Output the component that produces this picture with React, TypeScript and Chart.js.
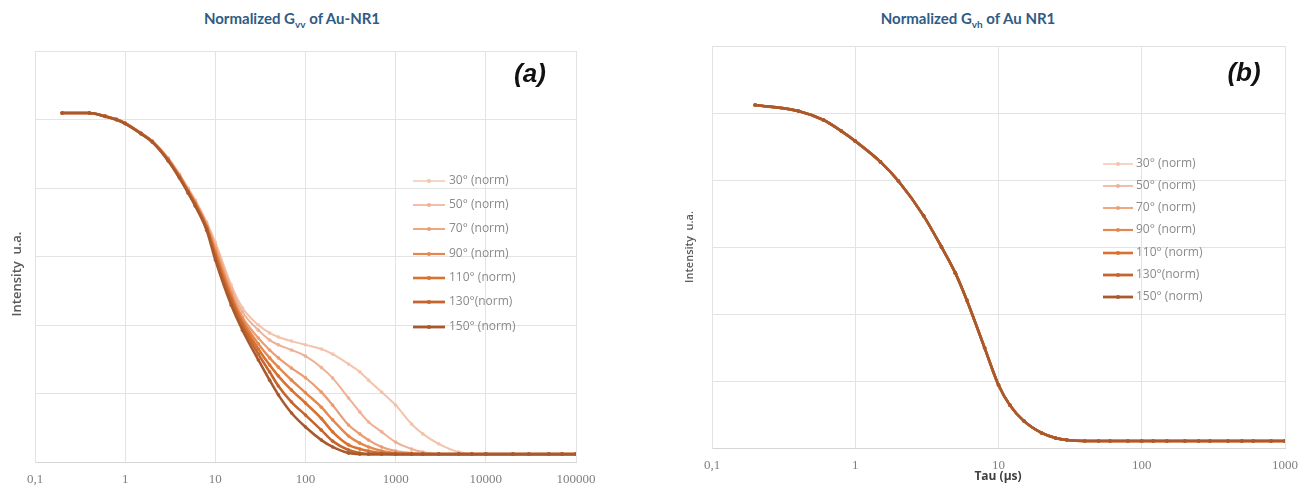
import React, { useEffect, useRef } from "react";
import { Chart, registerables } from "chart.js";

Chart.register(...registerables);

// ---------- data ----------
const ANGLE_LABELS = ["30° (norm)", "50° (norm)", "70° (norm)", "90° (norm)", "110° (norm)", "130°(norm)", "150° (norm)"];

const TAU_A = [0.2, 0.4, 0.6, 0.8, 1, 1.5, 2, 3, 4, 5, 6, 8, 10, 15, 20, 30, 40, 50, 70, 100, 150, 200, 300, 400, 500, 700, 1000, 1500, 2000, 3000, 5000, 7000, 10000, 20000, 30000, 50000, 70000, 100000];

const GVV_30 = [1.019, 1.019, 1.010, 1.001, 0.990, 0.961, 0.937, 0.888, 0.841, 0.800, 0.765, 0.701, 0.642, 0.517, 0.450, 0.400, 0.377, 0.365, 0.353, 0.342, 0.330, 0.315, 0.286, 0.263, 0.239, 0.204, 0.166, 0.111, 0.082, 0.053, 0.029, 0.023, 0.023, 0.023, 0.023, 0.023, 0.023, 0.023];
const GVV_50 = [1.019, 1.019, 1.010, 1.001, 0.990, 0.961, 0.937, 0.887, 0.839, 0.797, 0.762, 0.697, 0.634, 0.508, 0.438, 0.385, 0.356, 0.342, 0.327, 0.309, 0.276, 0.245, 0.187, 0.146, 0.117, 0.088, 0.058, 0.038, 0.029, 0.023, 0.023, 0.023, 0.023, 0.023, 0.023, 0.023, 0.023, 0.023];
const GVV_70 = [1.019, 1.019, 1.010, 1.001, 0.990, 0.960, 0.936, 0.885, 0.837, 0.794, 0.758, 0.692, 0.625, 0.496, 0.423, 0.362, 0.327, 0.304, 0.274, 0.246, 0.204, 0.166, 0.108, 0.082, 0.064, 0.044, 0.032, 0.026, 0.023, 0.023, 0.023, 0.023, 0.023, 0.023, 0.023, 0.023, 0.023, 0.023];
const GVV_90 = [1.019, 1.019, 1.010, 1.000, 0.989, 0.960, 0.936, 0.884, 0.835, 0.792, 0.756, 0.689, 0.616, 0.488, 0.415, 0.345, 0.304, 0.277, 0.239, 0.202, 0.160, 0.123, 0.076, 0.055, 0.044, 0.032, 0.026, 0.023, 0.023, 0.023, 0.023, 0.023, 0.023, 0.023, 0.023, 0.023, 0.023, 0.023];
const GVV_110 = [1.019, 1.019, 1.009, 1.000, 0.989, 0.959, 0.935, 0.882, 0.833, 0.790, 0.753, 0.686, 0.607, 0.479, 0.406, 0.330, 0.283, 0.251, 0.210, 0.172, 0.127, 0.088, 0.050, 0.038, 0.032, 0.026, 0.023, 0.023, 0.023, 0.023, 0.023, 0.023, 0.023, 0.023, 0.023, 0.023, 0.023, 0.023];
const GVV_130 = [1.019, 1.019, 1.009, 1.000, 0.988, 0.959, 0.935, 0.881, 0.831, 0.788, 0.750, 0.682, 0.599, 0.470, 0.397, 0.315, 0.263, 0.222, 0.175, 0.137, 0.093, 0.061, 0.035, 0.026, 0.023, 0.023, 0.023, 0.023, 0.023, 0.023, 0.023, 0.023, 0.023, 0.023, 0.023, 0.023, 0.023, 0.023];
const GVV_150 = [1.019, 1.019, 1.009, 0.999, 0.988, 0.958, 0.934, 0.879, 0.829, 0.785, 0.747, 0.677, 0.590, 0.458, 0.385, 0.298, 0.239, 0.196, 0.143, 0.102, 0.064, 0.044, 0.026, 0.023, 0.023, 0.023, 0.023, 0.023, 0.023, 0.023, 0.023, 0.023, 0.023, 0.023, 0.023, 0.023, 0.023, 0.023];

const TAU_B = [0.2, 0.4, 0.6, 0.8, 1, 1.5, 2, 3, 4, 5, 6, 8, 10, 12, 15, 20, 25, 30, 40, 50, 60, 80, 100, 120, 150, 200, 250, 300, 400, 500, 600, 800, 1000];
// all seven angles coincide in the Gvh panel
const GVH_NORM = [1.024, 1.006, 0.979, 0.946, 0.916, 0.854, 0.797, 0.693, 0.600, 0.522, 0.442, 0.299, 0.188, 0.128, 0.081, 0.045, 0.030, 0.024, 0.021, 0.021, 0.021, 0.021, 0.021, 0.021, 0.021, 0.021, 0.021, 0.021, 0.021, 0.021, 0.021, 0.021, 0.021];

const TICKS_A = [0.1, 1, 10, 100, 1000, 10000, 100000];
const TICK_LABELS_A = ["0,1", "1", "10", "100", "1000", "10000", "100000"];
const TICKS_B = [0.1, 1, 10, 100, 1000];
const TICK_LABELS_B = ["0,1", "1", "10", "100", "1000"];

// ---------- styles ----------
const SERIES_COLORS = ["#f4c3ab", "#efb095", "#eb9d73", "#e5884e", "#d9712f", "#c4652e", "#a9592e"];
const LINE_WIDTHS = [2, 2, 2.2, 2.4, 2.6, 2.6, 2.6];
const LEGEND_WIDTHS = [1.4, 1.6, 1.8, 2.2, 2.6, 2.8, 2.8];

type Overlay = {
  yTitle: { x: number; y: number; font: string };
  tag: { text: string; x: number; y: number };
  legend: { x0: number; x1: number; tx: number; ys: number[]; font: string };
  xTitle?: { text: string; x: number; y: number };
};

function overlayPlugin(o: Overlay) {
  return {
    id: "overlay",
    afterDraw(chart: any) {
      const ctx = chart.ctx as CanvasRenderingContext2D;
      ctx.save();
      ctx.save();
      ctx.translate(o.yTitle.x, o.yTitle.y);
      ctx.rotate(-Math.PI / 2);
      ctx.font = o.yTitle.font;
      ctx.fillStyle = "#595959";
      ctx.textAlign = "center";
      ctx.textBaseline = "middle";
      ctx.fillText("Intensity  u.a.", 0, 0);
      ctx.restore();
      ctx.font = "italic bold 26px 'Liberation Sans', sans-serif";
      ctx.fillStyle = "#111111";
      ctx.textAlign = "center";
      ctx.textBaseline = "middle";
      ctx.fillText(o.tag.text, o.tag.x, o.tag.y);
      ANGLE_LABELS.forEach((lab, i) => {
        const y = o.legend.ys[i];
        ctx.strokeStyle = SERIES_COLORS[i];
        ctx.lineWidth = LEGEND_WIDTHS[i];
        ctx.beginPath();
        ctx.moveTo(o.legend.x0, y);
        ctx.lineTo(o.legend.x1, y);
        ctx.stroke();
        ctx.fillStyle = SERIES_COLORS[i];
        ctx.beginPath();
        ctx.arc((o.legend.x0 + o.legend.x1) / 2, y, 2, 0, Math.PI * 2);
        ctx.fill();
        ctx.font = o.legend.font;
        ctx.fillStyle = "#8a8a8a";
        ctx.textAlign = "left";
        ctx.textBaseline = "middle";
        ctx.fillText(lab, o.legend.tx, y);
      });
      if (o.xTitle) {
        ctx.font = "bold 12px 'Open Sans', sans-serif";
        ctx.fillStyle = "#404040";
        ctx.textAlign = "center";
        ctx.textBaseline = "middle";
        ctx.fillText(o.xTitle.text, o.xTitle.x, o.xTitle.y);
      }
      ctx.restore();
    },
  };
}

type PanelProps = {
  left: number;
  width: number;
  tau: number[];
  series: number[][];
  ticks: number[];
  tickLabels: string[];
  xMax: number;
  padTop: number;
  padRight: number;
  yWidth: number;
  xHeight: number;
  overlay: Overlay;
};

function Panel(p: PanelProps) {
  const ref = useRef<HTMLCanvasElement>(null);
  useEffect(() => {
    const datasets = p.series.map((vals, i) => ({
      label: ANGLE_LABELS[i],
      data: p.tau.map((t, k) => ({ x: t, y: vals[k] })),
      borderColor: SERIES_COLORS[i],
      backgroundColor: SERIES_COLORS[i],
      borderWidth: LINE_WIDTHS[i],
      pointRadius: 1.8,
      pointBorderWidth: 0,
      pointBackgroundColor: SERIES_COLORS[i],
      cubicInterpolationMode: "monotone" as const,
      order: p.series.length - i,
    }));
    const chart = new Chart(ref.current!, {
      type: "line",
      data: { datasets },
      options: {
        animation: false,
        responsive: false,
        devicePixelRatio: 1,
        layout: { padding: { top: p.padTop, right: p.padRight, left: 0, bottom: 0 } },
        plugins: { legend: { display: false }, tooltip: { enabled: false }, title: { display: false } },
        scales: {
          x: {
            type: "logarithmic",
            min: 0.1,
            max: p.xMax,
            afterBuildTicks: (s: any) => {
              s.ticks = p.ticks.map((v) => ({ value: v }));
            },
            afterFit: (s: any) => {
              s.height = p.xHeight;
            },
            ticks: {
              autoSkip: false,
              maxRotation: 0,
              padding: 10,
              color: "#7f7f7f",
              font: { family: "'Liberation Serif', serif", size: 13 },
              callback: (v: any) => {
                const idx = p.ticks.findIndex((t) => Math.abs(Math.log10(t) - Math.log10(Number(v))) < 1e-6);
                return idx >= 0 ? p.tickLabels[idx] : "";
              },
            },
            grid: { color: "#e3e3e3", drawTicks: false, lineWidth: 1 },
            border: { color: "#d6d6d6" },
          },
          y: {
            min: 0,
            max: 1.2,
            afterFit: (s: any) => {
              s.width = p.yWidth;
            },
            ticks: { display: false, stepSize: 0.2 },
            grid: { color: "#e3e3e3", drawTicks: false, lineWidth: 1 },
            border: { color: "#e3e3e3" },
          },
        },
      },
      plugins: [overlayPlugin(p.overlay)],
    } as any);
    return () => chart.destroy();
  }, []);
  return (
    <canvas
      ref={ref}
      width={p.width}
      height={488}
      style={{ position: "absolute", left: p.left, top: 0, width: p.width, height: 488 }}
    />
  );
}

const titleStyle: React.CSSProperties = {
  position: "absolute",
  top: 8,
  width: 300,
  textAlign: "center",
  fontFamily: "Lato, 'Open Sans', sans-serif",
  fontWeight: 700,
  fontSize: 15,
  color: "#2f5b86",
  whiteSpace: "nowrap",
  lineHeight: "20px",
};

export default function App() {
  return (
    <div style={{ position: "absolute", left: 0, top: 0, width: 1305, height: 488, background: "#ffffff", overflow: "hidden" }}>
      <div style={{ ...titleStyle, left: 292 - 150 }}>
        Normalized G<sub style={{ fontSize: 10 }}>vv</sub> of Au-NR1
      </div>
      <div style={{ ...titleStyle, left: 968 - 150 }}>
        Normalized G<sub style={{ fontSize: 10 }}>vh</sub> of Au NR1
      </div>
      <Panel
        left={0}
        width={620}
        tau={TAU_A}
        series={[GVV_30, GVV_50, GVV_70, GVV_90, GVV_110, GVV_130, GVV_150]}
        ticks={TICKS_A}
        tickLabels={TICK_LABELS_A}
        xMax={100000}
        padTop={51}
        padRight={44}
        yWidth={35}
        xHeight={26}
        overlay={{
          yTitle: { x: 17, y: 274, font: "600 13px 'Open Sans', sans-serif" },
          tag: { text: "(a)", x: 530, y: 75 },
          legend: { x0: 413, x1: 445, tx: 449, ys: [181, 205, 229, 254, 278, 302, 327], font: "12px 'Open Sans', sans-serif" },
        }}
      />
      <Panel
        left={650}
        width={665}
        tau={TAU_B}
        series={[GVH_NORM, GVH_NORM, GVH_NORM, GVH_NORM, GVH_NORM, GVH_NORM, GVH_NORM]}
        ticks={TICKS_B}
        tickLabels={TICK_LABELS_B}
        xMax={1000}
        padTop={46}
        padRight={30}
        yWidth={62}
        xHeight={40}
        overlay={{
          yTitle: { x: 40, y: 247, font: "600 11px 'Open Sans', sans-serif" },
          tag: { text: "(b)", x: 594, y: 74 },
          legend: { x0: 453, x1: 483, tx: 486, ys: [164, 186, 208, 230, 253, 275, 297], font: "12px 'Open Sans', sans-serif" },
          xTitle: { text: "Tau (µs)", x: 348, y: 477 },
        }}
      />
    </div>
  );
}
